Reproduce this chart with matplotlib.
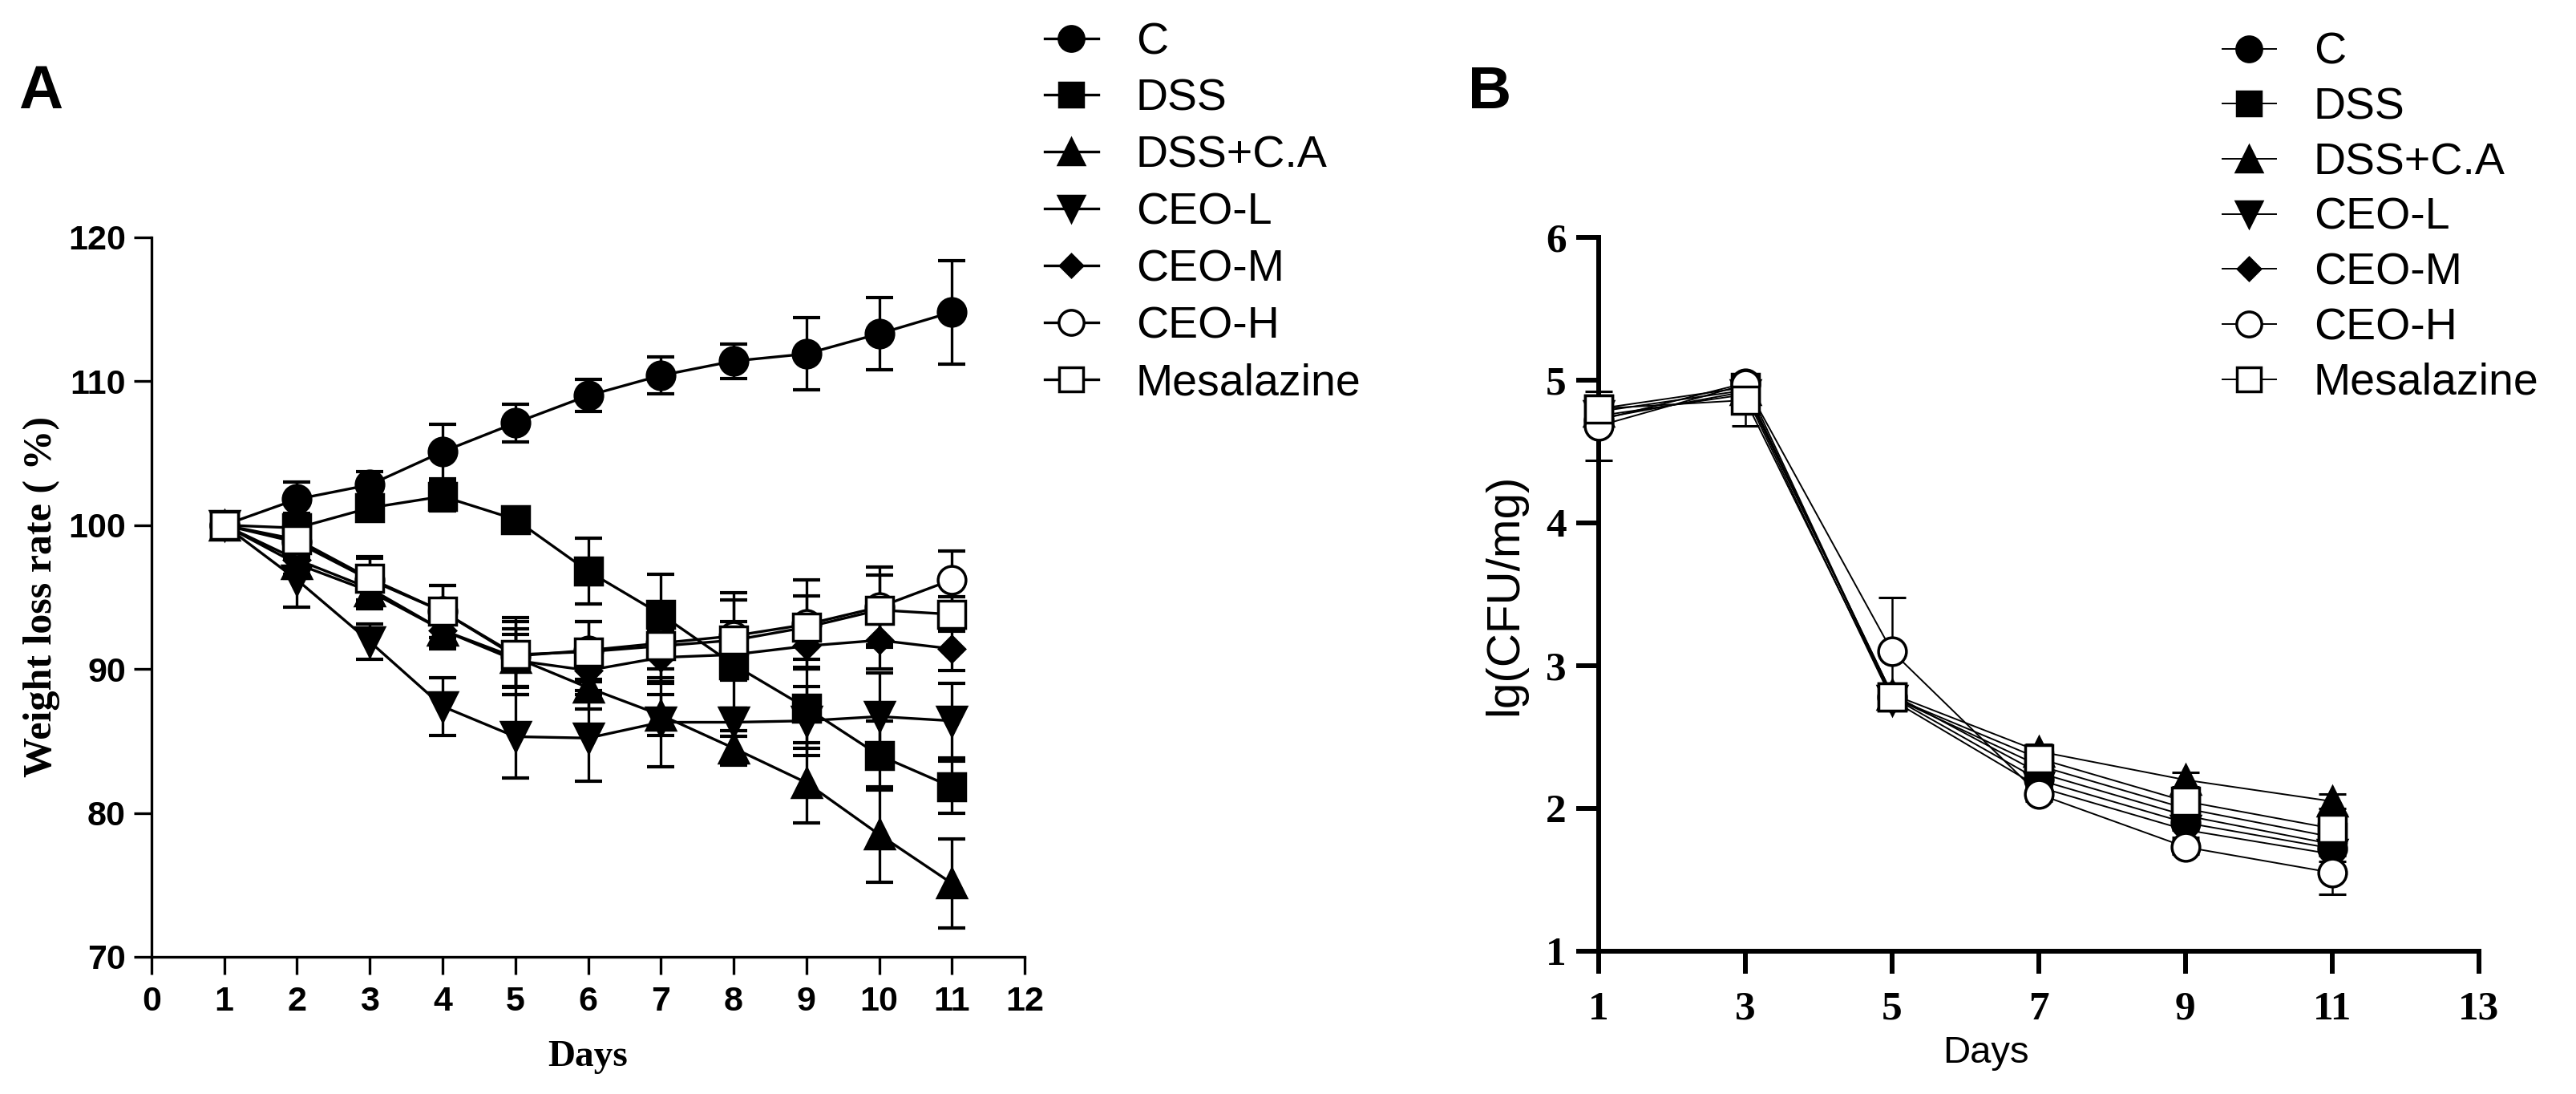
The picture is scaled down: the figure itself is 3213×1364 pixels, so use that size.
import matplotlib
matplotlib.use("Agg")
import matplotlib.pyplot as plt

# ---- data: panel A, weight loss rate (%) ----
days_a = [1, 2, 3, 4, 5, 6, 7, 8, 9, 10, 11]
groups = ["C", "DSS", "DSS+C.A", "CEO-L", "CEO-M", "CEO-H", "Mesalazine"]

c_a = [100, 101.8, 102.8, 105.1, 107.1, 109.0, 110.4, 111.4, 111.9, 113.3, 114.8]
c_a_err = [0, 1.2, 0.9, 1.9, 1.3, 1.1, 1.3, 1.2, 2.5, 2.5, 3.6]
dss_a = [100, 99.8, 101.2, 102.0, 100.4, 96.8, 93.8, 90.3, 87.3, 84.0, 81.8]
dss_a_err = [0, 1.0, 0.8, 1.0, 0.4, 2.3, 2.8, 3.0, 2.8, 2.4, 1.8]
dssca_a = [100, 97.3, 95.4, 92.7, 90.8, 88.7, 86.8, 84.5, 82.1, 78.5, 75.1]
dssca_a_err = [0, 1.0, 1.2, 1.2, 2.0, 1.5, 1.4, 1.2, 2.8, 3.3, 3.1]
ceol_a = [100, 96.2, 91.9, 87.4, 85.3, 85.2, 86.3, 86.3, 86.4, 86.7, 86.4]
ceol_a_err = [0, 1.9, 1.2, 2.0, 2.9, 3.0, 3.1, 1.0, 2.4, 3.0, 2.6]
ceom_a = [100, 97.6, 95.6, 92.7, 90.6, 89.9, 90.8, 91.0, 91.6, 92.0, 91.4]
ceom_a_err = [0, 1.0, 1.0, 1.3, 1.8, 1.4, 1.8, 1.5, 1.6, 2.0, 1.5]
ceoh_a = [100, 98.8, 96.2, 94.0, 90.9, 91.3, 91.8, 92.3, 93.1, 94.3, 96.2]
ceoh_a_err = [0, 1.2, 1.5, 1.8, 2.7, 2.0, 1.8, 3.0, 3.1, 2.8, 2.0]
mesa_a = [100, 99.0, 96.3, 94.0, 91.0, 91.2, 91.6, 92.0, 92.9, 94.1, 93.8]
mesa_a_err = [0, 1.2, 1.5, 1.8, 2.3, 2.1, 2.5, 2.8, 2.2, 2.4, 1.2]

# ---- data: panel B, lg(CFU/mg) ----
days_b = [1, 3, 5, 7, 9, 11]
c_b = [4.72, 4.98, 2.78, 2.20, 1.90, 1.72]
c_b_err = [0.05, 0.05, 0.05, 0.05, 0.05, 0.05]
dss_b = [4.80, 4.95, 2.78, 2.30, 2.00, 1.80]
dss_b_err = [0.05, 0.05, 0.05, 0.05, 0.05, 0.05]
dssca_b = [4.78, 4.93, 2.80, 2.40, 2.20, 2.05]
dssca_b_err = [0.05, 0.05, 0.05, 0.05, 0.05, 0.05]
ceol_b = [4.75, 4.90, 2.76, 2.15, 1.85, 1.68]
ceol_b_err = [0.05, 0.05, 0.05, 0.05, 0.05, 0.05]
ceom_b = [4.73, 4.92, 2.80, 2.25, 1.95, 1.75]
ceom_b_err = [0.05, 0.05, 0.05, 0.05, 0.05, 0.05]
ceoh_b = [4.68, 4.97, 3.10, 2.10, 1.73, 1.55]
ceoh_b_err = [0.24, 0.05, 0.38, 0.05, 0.05, 0.15]
mesa_b = [4.80, 4.86, 2.78, 2.35, 2.05, 1.86]
mesa_b_err = [0.05, 0.18, 0.05, 0.05, 0.05, 0.05]

means_a = [c_a, dss_a, dssca_a, ceol_a, ceom_a, ceoh_a, mesa_a]
errs_a = [c_a_err, dss_a_err, dssca_a_err, ceol_a_err, ceom_a_err, ceoh_a_err, mesa_a_err]
means_b = [c_b, dss_b, dssca_b, ceol_b, ceom_b, ceoh_b, mesa_b]
errs_b = [c_b_err, dss_b_err, dssca_b_err, ceol_b_err, ceom_b_err, ceoh_b_err, mesa_b_err]

# marker style per group: (marker, size, face)
styles = [("o", 25, "black"), ("s", 24, "black"), ("^", 26, "black"),
          ("v", 26, "black"), ("D", 16, "black"), ("o", 25, "white"),
          ("s", 24, "white")]

SANS = ["Liberation Sans", "DejaVu Sans"]
NARROW = ["Liberation Sans Narrow", "Liberation Sans", "DejaVu Sans"]
SERIF = ["Liberation Serif", "DejaVu Serif"]

fig = plt.figure(figsize=(32.13, 13.64), dpi=100)
ax_a = fig.add_axes([0.0588, 0.1254, 0.3390, 0.6577])
ax_b = fig.add_axes([0.6206, 0.1305, 0.3417, 0.6525])


def draw(ax, x, means, errs, lw, elw, cap, capthick):
    handles = []
    for name, m, e, (mk, ms, fc) in zip(groups, means, errs, styles):
        ax.errorbar(x, m, yerr=e, fmt="none", ecolor="black", elinewidth=elw,
                    capsize=cap, capthick=capthick, clip_on=False, zorder=2)
        ln, = ax.plot(x, m, color="black", lw=lw, marker=mk, markersize=ms,
                      markerfacecolor=fc, markeredgecolor="black",
                      markeredgewidth=2.5, clip_on=False, zorder=3, label=name)
        handles.append(ln)
    for s in ["top", "right"]:
        ax.spines[s].set_visible(False)
    return handles


# ---- panel A ----
h_a = draw(ax_a, days_a, means_a, errs_a, lw=2.4, elw=2.4, cap=12, capthick=3)
ax_a.set_xlim(0, 12)
ax_a.set_ylim(70, 120)
ax_a.set_xticks(range(0, 13))
ax_a.set_yticks(range(70, 121, 10))
for s in ["left", "bottom"]:
    ax_a.spines[s].set_linewidth(2.4)
ax_a.tick_params(direction="out", length=16, width=2.4, pad=7)
ax_a.tick_params(axis="x", pad=10)
for lab in ax_a.get_xticklabels() + ax_a.get_yticklabels():
    lab.set_family(NARROW)
    lab.set_fontweight("bold")
    lab.set_fontsize(31)
ax_a.set_ylabel("Weight loss rate ( %)", family=SERIF, fontweight="bold",
                fontsize=36, va="center")
ax_a.yaxis.set_label_coords(-0.126, 0.5)
ax_a.set_xlabel("Days", family=SERIF, fontweight="bold", fontsize=34, va="center")
ax_a.xaxis.set_label_coords(0.5, -0.139)

# ---- panel B ----
h_b = draw(ax_b, days_b, means_b, errs_b, lw=1.4, elw=1.8, cap=12, capthick=2.2)
ax_b.set_xlim(1, 13)
ax_b.set_ylim(1, 6)
ax_b.set_xticks(range(1, 14, 2))
ax_b.set_yticks(range(1, 7))
for s in ["left", "bottom"]:
    ax_b.spines[s].set_linewidth(4.3)
ax_b.tick_params(direction="out", length=20, width=4.3, pad=9)
ax_b.tick_params(axis="x", pad=16)
for lab in ax_b.get_xticklabels() + ax_b.get_yticklabels():
    lab.set_family(SERIF)
    lab.set_fontweight("bold")
    lab.set_fontsize(37)
ax_b.set_ylabel("lg(CFU/mg)", family=SANS, fontsize=42, va="center")
ax_b.yaxis.set_label_coords(-0.106, 0.5)
ax_b.set_xlabel("Days", family=SANS, fontsize=34, va="center")
ax_b.xaxis.set_label_coords(0.44, -0.143)

# ---- legends ----
leg_kw = dict(loc="upper left", frameon=False, prop={"family": SANS, "size": 40},
              handlelength=1.2, handletextpad=0.85,
              borderaxespad=0, borderpad=0, markerscale=0.9)
fig.legend(handles=h_a, bbox_to_anchor=(1303 / 3213, 1 - 27 / 1364),
           labelspacing=0.34, **leg_kw)
fig.legend(handles=h_b, bbox_to_anchor=(2772 / 3213, 1 - 40 / 1364),
           labelspacing=0.30, **leg_kw)

# ---- panel letters ----
fig.text(23 / 3213, 1 - 135 / 1364, "A", family=SANS, fontweight="bold",
         fontsize=55, va="baseline")
fig.text(1831 / 3213, 1 - 135 / 1364, "B", family=SANS, fontweight="bold",
         fontsize=54, va="baseline")

fig.savefig("out.png", dpi=100, facecolor="white")
